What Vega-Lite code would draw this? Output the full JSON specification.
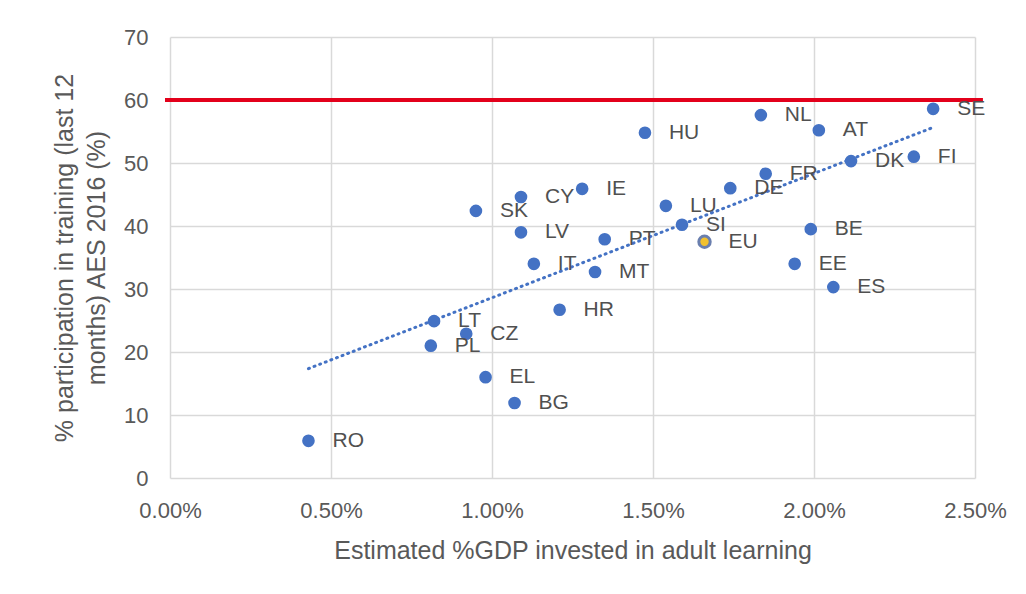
{
  "$schema": "https://vega.github.io/schema/vega-lite/v6.json",
  "width": 805,
  "height": 441,
  "autosize": {"type": "none"},
  "padding": {"left": 170, "top": 37, "right": 51, "bottom": 116},
  "background": "white",
  "config": {
    "font": "Liberation Sans",
    "view": {"stroke": null}
  },
  "data": {
    "values": [
      {"code": "RO", "gdp": 0.43, "part": 5.9},
      {"code": "PL", "gdp": 0.81, "part": 21.0},
      {"code": "LT", "gdp": 0.82, "part": 24.9},
      {"code": "CZ", "gdp": 0.92, "part": 22.9},
      {"code": "EL", "gdp": 0.98, "part": 16.0},
      {"code": "BG", "gdp": 1.07, "part": 11.9},
      {"code": "SK", "gdp": 0.95, "part": 42.4},
      {"code": "CY", "gdp": 1.09, "part": 44.6},
      {"code": "LV", "gdp": 1.09, "part": 39.0},
      {"code": "IT", "gdp": 1.13, "part": 34.0},
      {"code": "IE", "gdp": 1.28, "part": 45.9},
      {"code": "HR", "gdp": 1.21, "part": 26.7},
      {"code": "PT", "gdp": 1.35, "part": 37.9},
      {"code": "MT", "gdp": 1.32, "part": 32.7},
      {"code": "HU", "gdp": 1.475, "part": 54.8},
      {"code": "LU", "gdp": 1.54, "part": 43.2},
      {"code": "SI", "gdp": 1.59, "part": 40.2},
      {"code": "EU", "gdp": 1.66, "part": 37.5},
      {"code": "DE", "gdp": 1.74, "part": 46.0},
      {"code": "NL", "gdp": 1.835, "part": 57.6},
      {"code": "FR", "gdp": 1.85, "part": 48.3},
      {"code": "AT", "gdp": 2.015, "part": 55.2},
      {"code": "DK", "gdp": 2.115, "part": 50.3},
      {"code": "BE", "gdp": 1.99, "part": 39.5},
      {"code": "EE", "gdp": 1.94, "part": 34.0},
      {"code": "ES", "gdp": 2.06, "part": 30.3},
      {"code": "FI", "gdp": 2.31, "part": 51.0},
      {"code": "SE", "gdp": 2.37, "part": 58.6}
    ]
  },
  "encoding": {
    "x": {
      "field": "gdp",
      "type": "quantitative",
      "scale": {"domain": [0, 2.5], "nice": false, "zero": false},
      "axis": {
        "values": [0, 0.5, 1, 1.5, 2, 2.5],
        "labelExpr": "format(datum.value, '.2f') + '%'",
        "grid": true,
        "gridColor": "#d9d9d9",
        "gridWidth": 1.5,
        "domain": false,
        "ticks": false,
        "labelFontSize": 22,
        "labelColor": "#595959",
        "labelPadding": 22,
        "labelFlush": false,
        "title": "Estimated %GDP invested in adult learning",
        "titleFontSize": 25,
        "titleFontWeight": "normal",
        "titleColor": "#595959",
        "titlePadding": 17
      }
    },
    "y": {
      "field": "part",
      "type": "quantitative",
      "scale": {"domain": [0, 70], "nice": false},
      "axis": {
        "values": [0, 10, 20, 30, 40, 50, 60, 70],
        "grid": true,
        "gridColor": "#d9d9d9",
        "gridWidth": 1.5,
        "domain": false,
        "ticks": false,
        "labelFontSize": 22,
        "labelColor": "#595959",
        "labelPadding": 22,
        "title": ["% participation in training (last 12", "months) AES 2016 (%)"],
        "titleFontSize": 25,
        "titleFontWeight": "normal",
        "titleColor": "#595959",
        "titleLineHeight": 32,
        "titlePadding": 14
      }
    }
  },
  "layer": [
    {
      "transform": [
        {"filter": "datum.code !== 'EU'"},
        {"regression": "part", "on": "gdp", "extent": [0.43, 2.37]}
      ],
      "mark": {"type": "line", "color": "#4472c4", "strokeWidth": 3, "strokeDash": [1, 5], "strokeCap": "round"},
      "encoding": {}
    },
    {
      "mark": {"type": "rule", "color": "#e3001b", "strokeWidth": 4},
      "encoding": {
        "y": {"datum": 60, "type": "quantitative"},
        "x": {"datum": -0.015, "type": "quantitative"},
        "x2": {"datum": 2.522}
      }
    },
    {
      "transform": [{"filter": "datum.code !== 'EU'"}],
      "mark": {"type": "point", "filled": true, "color": "#4472c4", "opacity": 1, "size": 160}
    },
    {
      "transform": [{"filter": "datum.code === 'EU'"}],
      "mark": {"type": "point", "filled": true, "fill": "#f2c12e", "stroke": "#6a7fae", "strokeWidth": 3, "opacity": 1, "size": 130}
    },
    {
      "mark": {"type": "text", "align": "left", "baseline": "middle", "dx": 24, "fontSize": 21, "color": "#505050"},
      "encoding": {"text": {"field": "code"}}
    }
  ]
}
